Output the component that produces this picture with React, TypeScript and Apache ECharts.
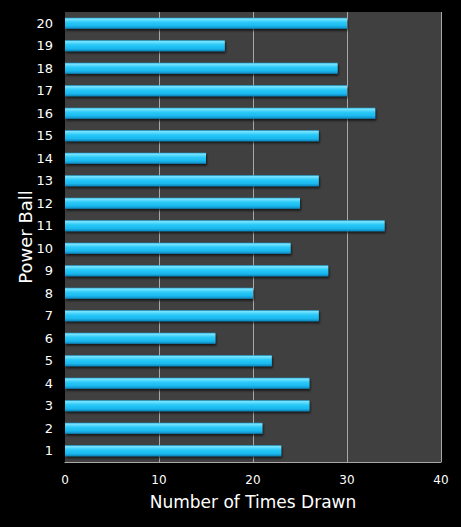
import React, { useEffect, useRef } from "react";
import * as echarts from "echarts";

const categories = ["1","2","3","4","5","6","7","8","9","10","11","12","13","14","15","16","17","18","19","20"];
const timesDrawn = [23, 21, 26, 26, 22, 16, 27, 20, 28, 24, 34, 25, 27, 15, 27, 33, 30, 29, 17, 30];
const xTicks = [0, 10, 20, 30, 40];

export default function App() {
  const ref = useRef<HTMLDivElement>(null);
  useEffect(() => {
    const chart = echarts.init(ref.current!, null, { renderer: "svg" });
    chart.setOption({
      animation: false,
      backgroundColor: "#000000",
      textStyle: { fontFamily: "DejaVu Sans" },
      grid: {
        left: 65,
        right: 20,
        top: 12,
        bottom: 65,
        show: true,
        backgroundColor: "#404040",
        borderWidth: 0,
      },
      xAxis: {
        type: "value",
        min: xTicks[0],
        max: xTicks[xTicks.length - 1],
        interval: 10,
        name: "Number of Times Drawn",
        nameLocation: "middle",
        nameGap: 31,
        nameTextStyle: { color: "#ffffff", fontSize: 17, fontFamily: "DejaVu Sans" },
        axisLine: { show: true, lineStyle: { color: "#a8a8a8", width: 1 } },
        axisTick: { show: false },
        axisLabel: { color: "#ffffff", fontSize: 12, margin: 12, fontFamily: "DejaVu Sans" },
        splitLine: {
          show: true,
          lineStyle: { color: ["transparent", "#a8a8a8", "#a8a8a8", "#a8a8a8", "#a8a8a8"], width: 1 },
        },
      },
      yAxis: {
        type: "category",
        data: categories,
        name: "Power Ball",
        nameLocation: "middle",
        nameRotate: 90,
        nameGap: 31,
        nameMoveOverlap: false,
        nameTextStyle: { color: "#ffffff", fontSize: 18, fontFamily: "DejaVu Sans" },
        axisLine: { show: false },
        axisTick: { show: false },
        axisLabel: { color: "#ffffff", fontSize: 13, margin: 12, fontFamily: "DejaVu Sans" },
        splitLine: { show: false },
      },
      series: [
        {
          type: "bar",
          data: timesDrawn,
          barWidth: 11,
          itemStyle: {
            color: new echarts.graphic.LinearGradient(0, 0, 0, 1, [
              { offset: 0, color: "#22a8d8" },
              { offset: 0.12, color: "#7ae4ff" },
              { offset: 0.4, color: "#2ccaf8" },
              { offset: 0.75, color: "#1ab8ee" },
              { offset: 1, color: "#0c86bc" },
            ]),
            shadowColor: "rgba(0,0,0,0.65)",
            shadowBlur: 2,
            shadowOffsetX: 1,
            shadowOffsetY: 2,
          },
        },
      ],
    });
    return () => chart.dispose();
  }, []);
  return (
    <div
      ref={ref}
      style={{ position: "fixed", left: 0, top: 0, width: 461, height: 527 }}
    />
  );
}
